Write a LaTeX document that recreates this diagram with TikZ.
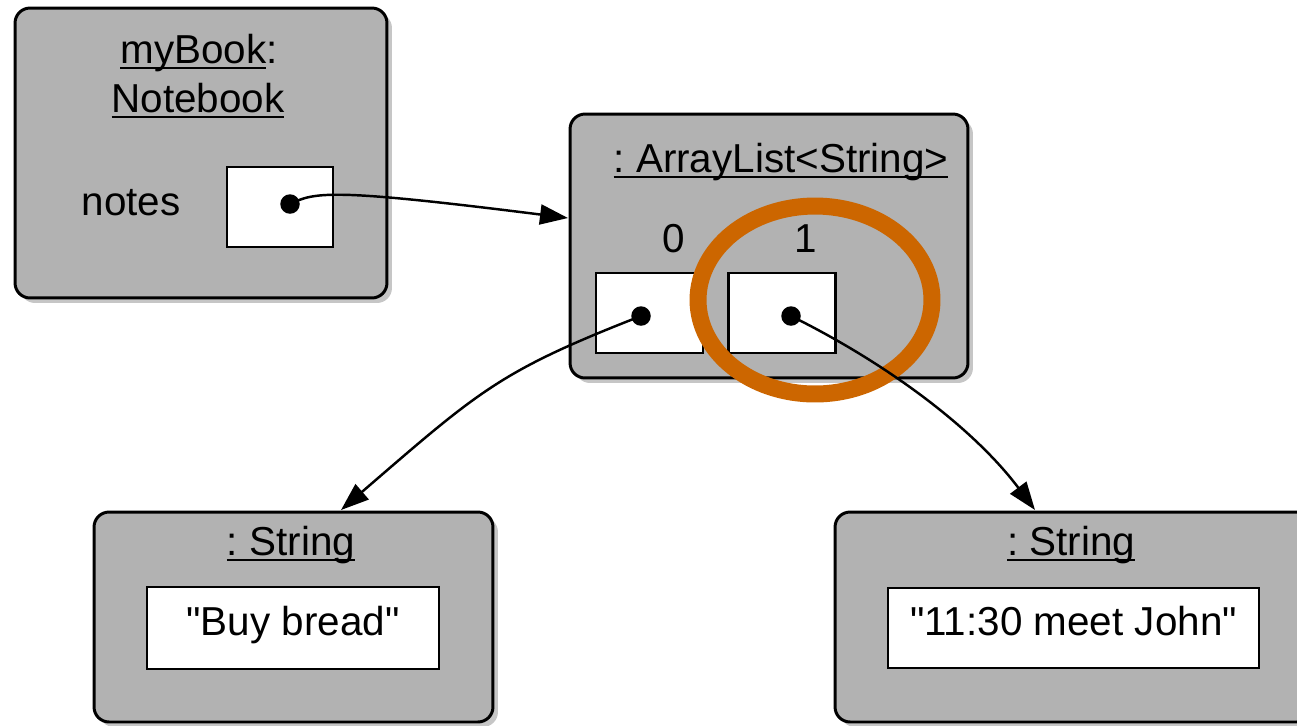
\documentclass[tikz,border=0pt]{standalone}
\usepackage{fontspec}
\setmainfont{Liberation Sans}[Ligatures=TeXOff]
\usepackage{tikz}
\usetikzlibrary{shapes,arrows.meta,positioning,shadows}

\definecolor{markorange}{RGB}{204,102,0}
\newcommand{\objname}[1]{\setbox0\hbox{#1}\rlap{\rule[-0.145em]{\wd0}{0.05em}}\box0}
\frenchspacing

\tikzset{
  objbox/.style={draw, line width=1.7pt, fill=black!30, rounded corners=0.3cm,
    drop shadow={shadow xshift=0.1cm, shadow yshift=-0.1cm, opacity=0.45}},
  fieldbox/.style={draw, line width=1.5pt, fill=white, minimum height=1.6cm},
  valbox/.style={fieldbox, font=\fontsize{23}{28}\selectfont, text height=14pt, text depth=6pt},
  lbl/.style={anchor=base, inner sep=0pt, font=\fontsize{23}{28}\selectfont},
  refdot/.style={circle, fill=black, inner sep=0pt, minimum size=0.39cm},
  refarrow/.style={line width=1.4pt, -{Triangle[length=0.56cm,width=0.4cm]}},
}

\begin{document}
\begin{tikzpicture}[x=0.02cm, y=-0.02cm]
\useasboundingbox (0,0) rectangle (1297,725);

% Object boxes
\node[objbox, minimum width=7.44cm, minimum height=5.8cm] (book) at (201,153) {};
\node[objbox, minimum width=7.96cm, minimum height=5.28cm] (list) at (769,246) {};
\node[objbox, minimum width=7.98cm, minimum height=4.2cm] (str0) at (293.5,617) {};
\node[objbox, minimum width=9.54cm, minimum height=4.2cm] (str1) at (1073.5,617) {};

% Object names
\node[lbl] (booktitle) at (199,63) {\objname{myBook}:};
\node[lbl] (booktype) at (198,112) {\objname{Notebook}};
\node[lbl] (listtitle) at (781,172) {\objname{: ArrayList<String>}};
\node[lbl] (str0title) at (291,555) {\objname{: String}};
\node[lbl] (str1title) at (1071,555) {\objname{: String}};

% Field of myBook
\node[lbl] (noteslabel) at (131,215) {notes};
\node[fieldbox, minimum width=2.12cm] (notesfield) at (280,207) {};
\node[refdot] (notesdot) at (290,204) {};

% Cells of the list
\foreach \i/\x/\d in {0/649.5/641, 1/782/791} {
  \node[fieldbox, minimum width=2.14cm] (cell\i) at (\x,313) {};
  \node[lbl] (index\i) at (\x+24,252) {\i};
  \node[refdot] (dot\i) at (\d,316) {};
}

% String values
\node[valbox, minimum width=5.84cm, minimum height=1.64cm] (val0) at (293,628) {"Buy bread"};
\node[valbox, minimum width=7.42cm] (val1) at (1073.5,628) {"11:30 meet John"};

% Highlight
\draw[line width=0.34cm, markorange] (815,300) ellipse [x radius=2.34cm, y radius=1.88cm];

% References
\coordinate (listin) at (568,218);
\coordinate (str0in) at (341,510);
\coordinate (str1in) at (1035,510);
\draw[refarrow] (notesdot.center) .. controls (315,192) and (330,188) .. (listin);
\draw[refarrow] (dot0.center) .. controls (500,371) and (480,390) .. (str0in);
\draw[refarrow] (dot1.center) .. controls (890,365) and (975,430) .. (str1in);
\end{tikzpicture}
\end{document}
